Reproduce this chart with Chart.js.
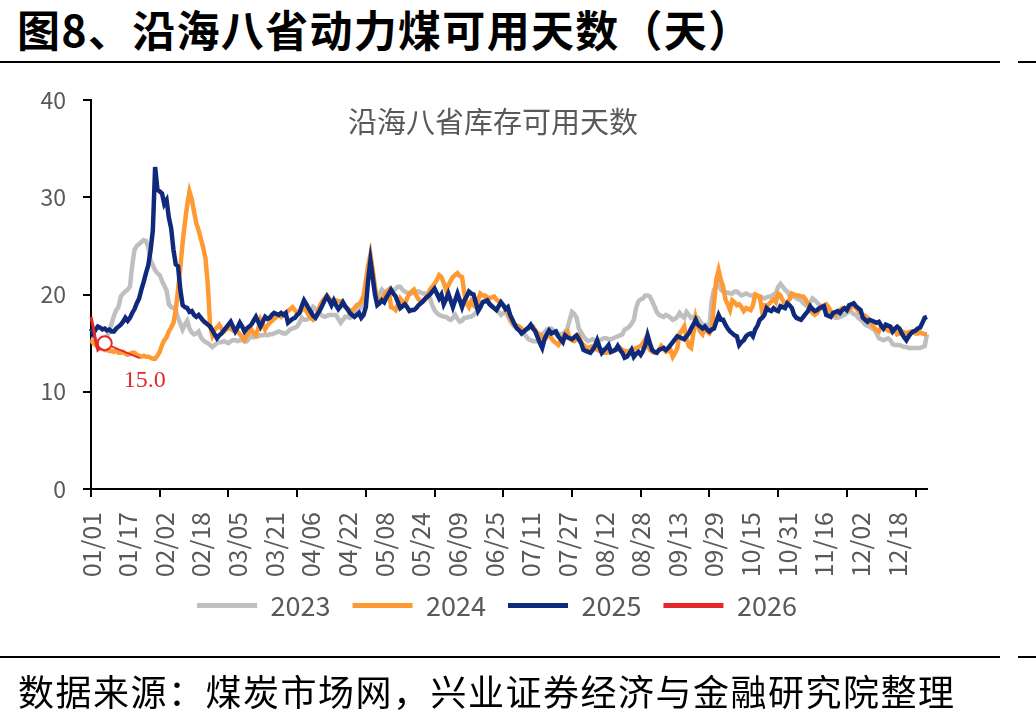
<!DOCTYPE html>
<html><head><meta charset="utf-8">
<script src="https://cdn.jsdelivr.net/npm/chart.js@4.4.0/dist/chart.umd.min.js"></script>
<style>
html,body{margin:0;padding:0;background:#fff;}
#wrap{position:relative;width:1036px;height:722px;overflow:hidden;font-family:"Noto Sans CJK SC",sans-serif;}
#title{position:absolute;left:17px;top:1px;font-size:43px;font-weight:bold;letter-spacing:1.3px;color:#000;line-height:54px;white-space:nowrap;}
.rule{position:absolute;height:2px;background:#000;}
#src{position:absolute;left:18px;top:668px;font-size:36px;letter-spacing:1.5px;color:#000;line-height:44px;white-space:nowrap;}
canvas{position:absolute;left:0;top:0;}
</style></head>
<body><div id="wrap">
<div id="title">图8、沿海八省动力煤可用天数（天）</div>
<div class="rule" style="left:0;top:61px;width:1000px"></div>
<div class="rule" style="left:1018px;top:61px;width:18px"></div>
<canvas id="c" width="1036" height="722" style="width:1036px;height:722px"></canvas>
<div class="rule" style="left:0;top:656px;width:1000px"></div>
<div class="rule" style="left:1018px;top:656px;width:18px"></div>
<div id="src">数据来源：煤炭市场网，兴业证券经济与金融研究院整理</div>
</div>
<script>
const seriesNames = ['2023', '2024', '2025', '2026'];
const tickLabels = ['01/01','01/17','02/02','02/18','03/05','03/21','04/06','04/22','05/08','05/24','06/09','06/25','07/11','07/27','08/12','08/28','09/13','09/29','10/15','10/31','11/16','12/02','12/18'];
const monthDays = [31,29,31,30,31,30,31,31,30,31,30,31];
const yTicks = [0, 10, 20, 30, 40];
const innerTitle = '沿海八省库存可用天数';
const lastLabel = '15.0';

const s2023 = [
15.5,15.4,15.3,15.2,15.2,15.3,15.5,15.7,16.3,17.0,
17.8,18.4,18.7,19.8,20.1,20.3,20.5,20.8,23.0,24.6,
25.0,25.2,25.4,25.6,25.5,24.9,23.5,23.0,22.5,22.2,
22.0,21.4,20.9,20.4,19.0,18.7,18.6,18.4,17.6,17.0,
16.4,16.9,17.3,16.5,16.1,15.9,16.0,16.2,15.6,15.3,
15.1,15.0,14.8,14.6,14.8,15.0,15.1,15.1,15.2,15.1,
15.0,15.2,15.3,15.3,15.2,15.3,15.3,15.2,15.2,15.5,
15.7,15.6,15.7,15.7,15.8,15.8,15.9,15.8,15.9,15.9,
16.0,16.1,16.2,16.1,16.0,16.0,16.2,16.4,16.5,16.6,
16.7,17.1,17.6,17.4,17.4,17.5,18.0,18.7,18.5,18.3,
18.0,17.8,17.7,17.8,17.9,17.9,17.9,17.9,17.5,17.1,
17.4,17.7,17.7,17.6,17.8,18.0,18.3,18.5,18.7,19.5,
20.8,22.0,22.9,21.4,20.3,19.7,20.1,20.5,20.2,20.0,
20.1,20.2,20.3,20.6,20.8,20.8,20.5,20.3,20.2,20.1,
20.1,20.2,20.3,20.3,20.2,20.1,20.1,19.9,19.6,18.9,
18.4,18.1,17.9,17.8,17.7,17.7,17.5,17.4,17.6,17.9,
17.5,17.2,17.3,17.6,17.6,17.7,17.7,17.9,18.1,18.5,
19.0,19.2,19.4,19.3,19.1,18.9,18.6,18.4,18.2,17.9,
18.1,18.2,17.8,17.3,16.9,16.7,16.5,16.4,16.2,16.0,
15.7,15.4,15.3,15.2,15.2,15.2,15.3,15.9,16.1,16.4,
16.5,16.5,16.3,15.9,15.9,15.9,15.9,16.2,16.5,17.4,
18.2,18.0,17.6,16.5,16.1,15.7,15.4,15.2,15.3,15.4,
15.3,15.2,15.3,15.4,15.5,15.5,15.4,15.4,15.5,15.6,
15.7,15.8,15.9,16.4,16.5,16.7,17.0,17.4,18.6,19.3,
19.5,19.6,19.9,19.9,19.8,19.3,18.8,18.2,17.9,17.8,
17.7,17.9,17.8,17.6,17.4,17.5,17.7,18.1,17.8,17.6,
18.2,17.9,17.6,17.7,17.7,17.6,17.2,16.9,16.9,16.9,
16.7,19.4,20.5,20.8,21.3,20.5,20.3,20.2,20.2,20.1,
20.1,20.3,20.3,20.1,19.9,20.0,20.1,20.0,19.9,19.9,
19.9,19.8,19.8,19.7,19.6,19.7,19.8,19.8,20.0,20.1,
20.8,21.1,20.8,20.5,20.3,19.9,19.8,19.8,19.6,19.5,
19.4,19.1,18.9,19.0,19.2,19.6,19.4,19.2,18.9,18.6,
18.5,18.4,18.3,18.1,17.9,17.6,17.6,17.7,17.8,17.9,
18.1,18.3,18.2,18.0,17.9,17.6,17.4,17.2,16.9,16.8,
16.7,16.5,16.4,16.0,15.5,15.4,15.3,15.4,15.5,15.3,
14.9,14.8,14.8,14.8,14.7,14.6,14.6,14.5,14.5,14.5,
14.5,14.5,14.5,14.6,14.7,15.9];

const s2024 = [
15.3,15.0,14.8,14.6,14.5,14.4,14.3,14.3,14.2,14.2,
14.1,14.2,14.0,14.0,14.1,13.9,13.8,13.9,14.0,14.0,
13.8,13.7,13.6,13.7,13.6,13.6,13.5,13.4,13.4,13.7,
14.1,14.8,15.3,15.6,16.2,16.6,17.1,18.4,20.5,22.8,
25.3,27.4,29.2,30.6,29.8,28.5,27.3,26.6,25.7,24.8,
23.7,21.0,16.8,15.8,16.4,16.6,16.9,16.5,16.2,16.4,
16.5,16.5,16.3,16.4,16.2,15.9,15.6,15.3,15.8,16.1,
16.4,16.0,15.8,16.5,17.4,16.9,16.4,16.8,17.1,17.3,
17.5,17.7,17.9,17.7,18.0,18.1,18.3,18.5,18.7,18.4,
18.1,18.2,18.4,18.7,18.3,17.9,17.6,17.4,17.6,18.2,
18.9,19.3,19.6,19.9,19.6,19.3,19.3,19.4,19.3,19.3,
19.0,18.7,18.5,18.4,18.3,18.6,18.9,19.0,19.3,19.9,
21.4,23.0,24.1,22.5,20.8,19.3,19.4,19.6,19.9,20.3,
20.5,18.7,18.6,18.4,19.0,19.6,19.3,19.0,19.6,20.1,
20.3,20.5,19.9,19.5,19.3,19.4,19.5,19.9,20.5,20.8,
21.1,21.5,22.0,21.8,21.2,20.5,20.9,21.4,21.8,22.0,
22.2,21.9,21.8,20.1,19.1,18.7,19.3,18.9,18.7,19.4,
20.1,19.9,19.9,19.7,19.6,19.7,19.8,19.5,19.3,19.1,
18.9,18.5,18.1,17.6,17.1,16.9,16.8,16.7,16.5,16.2,
16.4,16.5,16.6,16.7,16.3,16.0,15.9,15.6,15.4,15.6,
15.9,15.5,15.2,15.0,14.8,15.2,15.7,15.9,16.2,15.5,
15.3,15.2,15.4,15.7,15.1,14.8,14.6,14.5,14.6,14.7,
14.5,14.3,14.2,14.1,14.0,14.0,14.1,14.1,14.2,14.3,
14.4,14.5,14.3,14.2,14.1,14.2,14.3,14.4,14.5,14.6,
14.7,15.0,15.4,14.8,14.3,14.1,14.0,14.0,14.3,14.7,
14.4,14.1,14.2,14.3,13.6,14.0,14.5,16.0,16.3,16.7,
15.5,14.7,14.5,16.0,17.6,16.7,16.2,15.9,16.5,16.2,
16.0,16.4,19.1,21.5,22.5,21.5,20.8,19.5,19.0,18.4,
19.4,19.2,18.9,19.0,18.7,18.3,18.6,18.5,18.4,18.9,
20.0,19.9,19.8,18.3,18.9,18.9,19.0,19.3,19.5,19.2,
20.1,19.9,19.4,19.0,19.2,19.5,20.1,20.0,19.9,19.9,
19.8,19.8,19.5,19.0,18.3,18.1,17.9,18.1,18.5,18.8,
18.9,19.0,18.7,18.3,18.0,17.9,18.2,18.4,18.6,18.5,
18.4,18.4,18.7,18.9,18.6,18.3,18.1,17.9,17.8,17.6,
17.2,16.9,16.6,16.3,16.2,16.7,16.6,16.5,16.3,16.2,
16.4,16.4,15.9,16.0,16.2,16.1,16.0,16.1,16.2,16.2,
16.0,16.0,16.1,16.0,15.9,15.9];

const s2025 = [
16.5,16.0,16.4,16.7,16.6,16.4,16.5,16.3,16.4,16.2,
16.2,16.5,16.7,16.9,17.2,17.6,17.3,17.6,18.1,18.5,
19.1,19.6,20.5,21.3,22.2,23.0,24.5,26.6,33.1,30.8,
30.6,30.4,29.3,29.7,27.9,26.8,24.6,23.1,22.9,20.5,
18.9,18.7,18.6,18.2,18.3,17.9,17.7,17.9,17.6,17.3,
17.1,16.9,16.7,16.3,15.9,15.5,15.8,16.0,16.3,16.6,
16.9,17.2,16.7,16.2,16.6,17.1,16.7,16.2,16.5,16.7,
16.9,17.3,17.7,17.2,16.7,17.2,17.7,17.5,17.6,17.9,
18.1,18.0,17.9,18.1,17.9,18.1,17.1,17.3,17.5,17.6,
17.9,18.1,18.8,19.4,19.0,18.6,18.2,17.8,17.6,18.0,
18.4,18.9,19.4,19.8,19.4,18.9,19.4,18.9,18.5,18.8,
19.2,18.8,18.5,18.1,17.9,17.7,17.9,18.1,17.6,17.9,
18.7,21.5,23.5,21.8,20.0,18.9,19.1,19.4,19.2,19.7,
20.1,20.5,20.1,19.8,19.2,18.6,18.8,19.0,18.7,18.3,
18.4,18.4,18.6,18.9,19.1,19.3,19.6,19.8,20.0,20.3,
20.6,20.1,19.6,20.0,19.0,19.5,20.1,19.4,18.7,19.4,
20.1,19.4,18.7,19.4,19.8,20.3,20.1,20.0,19.2,18.3,
18.7,19.2,19.3,19.4,19.0,18.8,18.6,18.4,18.8,19.2,
18.9,18.5,18.7,17.9,17.4,16.9,16.5,16.3,16.0,16.2,
16.4,16.6,16.9,16.5,16.2,15.6,15.0,14.5,15.4,15.9,
16.3,16.0,16.1,16.2,15.7,15.4,15.1,15.8,15.6,15.5,
15.4,15.6,15.8,15.4,15.0,14.3,14.2,14.1,14.0,14.3,
14.7,15.3,14.6,14.0,14.3,14.5,14.8,14.1,14.2,14.3,
14.7,14.3,14.0,13.5,13.6,13.9,14.3,13.6,13.9,14.1,
13.8,14.2,14.8,15.8,15.0,14.3,14.1,14.0,14.3,14.4,
14.5,14.3,14.5,14.8,15.1,15.4,15.7,15.6,15.5,15.4,
15.7,16.0,16.5,16.9,17.4,16.9,16.7,16.5,16.7,16.4,
16.2,16.4,16.5,17.2,17.9,17.4,17.4,16.9,16.5,16.2,
16.0,15.8,15.7,14.8,15.1,15.3,15.7,15.9,16.0,15.7,
16.4,16.8,17.4,17.6,17.9,18.6,18.4,18.3,18.6,18.4,
18.3,18.8,18.7,18.6,19.1,18.9,18.6,17.9,17.6,17.5,
17.4,17.7,18.0,18.3,18.8,18.5,18.3,18.4,18.6,18.7,
18.8,17.9,17.8,17.7,18.1,18.2,18.3,18.1,18.4,18.6,
18.4,18.9,19.0,19.1,18.8,18.6,18.4,17.6,17.4,17.2,
17.4,17.3,17.2,17.1,17.2,16.8,16.5,16.9,16.8,16.7,
16.2,16.5,16.7,16.5,16.0,15.6,15.3,15.7,16.0,16.2,
16.3,16.5,16.6,17.1,17.6,17.7];

const s2026 = [17.7,16.6,15.3,14.3,14.5,14.8,15.0];

const colors = ['#BFBFBF', '#FF9A33', '#0F2A7C', '#E4282A'];

// categories: every day of a (leap) year as MM/DD
const categories = [];
monthDays.forEach((n, m) => {
  for (let d = 1; d <= n; d++) categories.push(String(m + 1).padStart(2, '0') + '/' + String(d).padStart(2, '0'));
});

const innerTitlePlugin = {
  id: 'innerTitle',
  afterDraw(chart) {
    const {ctx, chartArea: a} = chart;
    ctx.save();
    ctx.font = '29px "Noto Sans CJK SC"';
    ctx.fillStyle = '#595959';
    ctx.textAlign = 'center';
    ctx.textBaseline = 'middle';
    ctx.fillText(innerTitle, a.left + (a.right - a.left) * 0.481, a.top + 22);
    ctx.restore();
  }
};

const xTickMarks = {
  id: 'xTickMarks',
  afterDraw(chart) {
    const {ctx} = chart;
    const xs = chart.scales.x;
    const yb = chart.chartArea.bottom;
    ctx.save();
    ctx.strokeStyle = '#000';
    ctx.lineWidth = 2;
    for (let i = 0; i < categories.length; i += 30) {
      const px = Math.round(xs.getPixelForValue(i));
      ctx.beginPath();
      ctx.moveTo(px, yb);
      ctx.lineTo(px, yb + 8);
      ctx.stroke();
    }
    ctx.restore();
  }
};

// move the legend box up a little so it sits closer to the tick labels
const legendNudge = {
  id: 'legendNudge',
  afterLayout(chart) {
    const L = chart.legend;
    if (L) { L.top -= 15; L.bottom -= 15; }
  }
};

const lastPointLabel = {
  id: 'lastPointLabel',
  afterDatasetsDraw(chart) {
    const meta = chart.getDatasetMeta(3);
    const pt = meta.data[s2026.length - 1];
    if (!pt) return;
    const {ctx} = chart;
    ctx.save();
    ctx.strokeStyle = colors[3];
    ctx.lineWidth = 2;
    ctx.beginPath();
    ctx.moveTo(pt.x + 6, pt.y + 3);
    ctx.lineTo(pt.x + 35, pt.y + 15);
    ctx.stroke();
    ctx.font = '24px "Liberation Serif"';
    ctx.fillStyle = colors[3];
    ctx.textAlign = 'center';
    ctx.textBaseline = 'middle';
    ctx.fillText(lastLabel, pt.x + 40, pt.y + 38);
    ctx.restore();
  }
};

const allSeries = [s2023, s2024, s2025, s2026];
const orders = [4, 3, 2, 1];
const widths = [4.5, 4.5, 4.5, 3];

new Chart(document.getElementById('c'), {
  type: 'line',
  data: {
    labels: categories,
    datasets: allSeries.map((s, k) => ({
      label: seriesNames[k],
      data: s,
      borderColor: colors[k],
      backgroundColor: colors[k],
      borderWidth: widths[k],
      order: orders[k],
      tension: 0,
      pointRadius: k === 3 ? s.map((v, i) => i === s.length - 1 ? 7 : 0) : 0,
      pointBorderWidth: 2,
      pointBorderColor: colors[k],
      pointBackgroundColor: '#ffffff',
      fill: false
    }))
  },
  options: {
    responsive: false,
    animation: false,
    events: [],
    layout: {padding: {top: 100, left: 0, right: 42, bottom: 78}},
    scales: {
      x: {
        type: 'category',
        offset: false,
        grid: {display: false, drawTicks: false},
        border: {display: true, color: '#000', width: 2},
        ticks: {
          autoSkip: false,
          minRotation: 90,
          maxRotation: 90,
          padding: 23,
          color: '#595959',
          font: {family: '"Noto Sans CJK SC"', size: 25},
          callback: (v, i) => (i % 16 === 0 ? tickLabels[i / 16] : null)
        },
        afterFit: s => { s.height = 96; }
      },
      y: {
        position: 'left',
        min: yTicks[0],
        max: yTicks[yTicks.length - 1],
        afterBuildTicks: s => { s.ticks = yTicks.map(v => ({value: v})); },
        grid: {drawOnChartArea: false, drawTicks: true, tickLength: 8, color: '#000', lineWidth: 2},
        border: {display: true, color: '#000', width: 2},
        ticks: {padding: 17, color: '#595959', font: {family: '"Noto Sans CJK SC"', size: 23}},
        afterFit: s => { s.width = 91; }
      },
      y2: {
        position: 'right',
        display: true,
        grid: {display: false, drawTicks: false},
        border: {display: false},
        ticks: {display: false},
        afterFit: s => { s.width = 67; }
      }
    },
    plugins: {
      tooltip: {enabled: false},
      legend: {
        position: 'bottom',
        labels: {
          boxWidth: 60,
          boxHeight: 5,
          padding: 22,
          color: '#595959',
          font: {family: '"Noto Sans CJK SC"', size: 27},
          sort: (a, b) => a.datasetIndex - b.datasetIndex,
          generateLabels: chart => Chart.defaults.plugins.legend.labels.generateLabels(chart).map(l => Object.assign(l, {lineWidth: 0, fillStyle: colors[l.datasetIndex]}))
        }
      }
    }
  },
  plugins: [innerTitlePlugin, xTickMarks, legendNudge, lastPointLabel]
});
</script>
</body></html>
